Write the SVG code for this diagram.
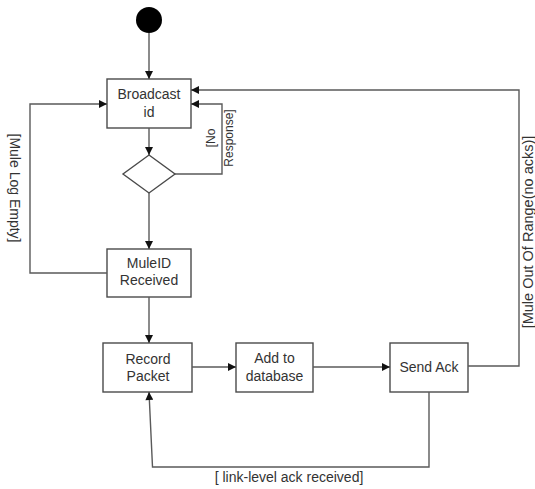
<svg xmlns="http://www.w3.org/2000/svg" width="535" height="489" viewBox="0 0 535 489">
  <style>
    .box { fill: #ffffff; stroke: #4a4a4a; stroke-width: 1.4; }
    .lbl { font-family: "Liberation Sans", Arial, sans-serif; font-size: 14px; fill: #333333; text-anchor: middle; }
    .guard { font-family: "Liberation Sans", Arial, sans-serif; font-size: 14px; fill: #333333; text-anchor: middle; }
    .flow { fill: none; stroke: #5a5a5a; stroke-width: 1.4; }
  </style>
  <defs>
    <marker id="arrow" viewBox="0 0 10 10" refX="10" refY="5" markerWidth="9" markerHeight="8" markerUnits="userSpaceOnUse" orient="auto">
      <path d="M0,0 L10,5 L0,10 Z" fill="#111111"/>
    </marker>
  </defs>

  <!-- initial state -->
  <g id="start">
    <circle cx="149" cy="20" r="13" fill="#000000"/>
  </g>

  <g id="broadcast-id">
    <rect class="box" x="107" y="79" width="84" height="49"/>
    <text class="lbl" x="149" y="99">Broadcast</text>
    <text class="lbl" x="149" y="117">id</text>
  </g>

  <g id="decision">
    <polygon class="box" points="149,155 175,174 149,193 123,174"/>
  </g>

  <g id="muleid-received">
    <rect class="box" x="107" y="249" width="84" height="48"/>
    <text class="lbl" x="149" y="268">MuleID</text>
    <text class="lbl" x="149" y="285">Received</text>
  </g>

  <g id="record-packet">
    <rect class="box" x="103" y="343" width="89" height="49"/>
    <text class="lbl" x="148" y="364">Record</text>
    <text class="lbl" x="148" y="381">Packet</text>
  </g>

  <g id="add-to-database">
    <rect class="box" x="236" y="343" width="77" height="49"/>
    <text class="lbl" x="274.5" y="363">Add to</text>
    <text class="lbl" x="274.5" y="381">database</text>
  </g>

  <g id="send-ack">
    <rect class="box" x="390" y="343" width="78" height="49"/>
    <text class="lbl" x="429" y="372">Send Ack</text>
  </g>

  <!-- transitions -->
  <g id="connectors">
    <line class="flow" x1="149" y1="33" x2="149" y2="79" marker-end="url(#arrow)"/>
    <line class="flow" x1="149" y1="128" x2="149" y2="155" marker-end="url(#arrow)"/>
    <line class="flow" x1="149" y1="193" x2="149" y2="249" marker-end="url(#arrow)"/>
    <line class="flow" x1="149" y1="297" x2="149" y2="343" marker-end="url(#arrow)"/>
    <line class="flow" x1="192" y1="367" x2="236" y2="367" marker-end="url(#arrow)"/>
    <line class="flow" x1="313" y1="367" x2="390" y2="367" marker-end="url(#arrow)"/>
    <!-- no response: retry broadcast -->
    <polyline class="flow" points="175,174 222,174 222,104 191,104" marker-end="url(#arrow)"/>
    <!-- mule log empty -->
    <polyline class="flow" points="107,273 30,273 30,104 107,104" marker-end="url(#arrow)"/>
    <!-- mule out of range -->
    <polyline class="flow" points="468,366 519,366 519,90 191,90" marker-end="url(#arrow)"/>
    <!-- link-level ack received -->
    <polyline class="flow" points="429,392 429,467 152.5,467 149,392" marker-end="url(#arrow)"/>

    <text class="guard" transform="translate(10,188) rotate(90)">[Mule Log Empty]</text>
    <text class="guard" style="font-size:12px" transform="translate(215,138) rotate(-90)"><tspan x="0" y="0">[No</tspan><tspan x="0" y="18">Response]</tspan></text>
    <text class="guard" style="font-size:14.5px" transform="translate(532.5,232) rotate(-90)">[Mule Out Of Range(no acks)]</text>
    <text class="guard" x="289" y="482">[ link-level ack received]</text>
  </g>
</svg>
